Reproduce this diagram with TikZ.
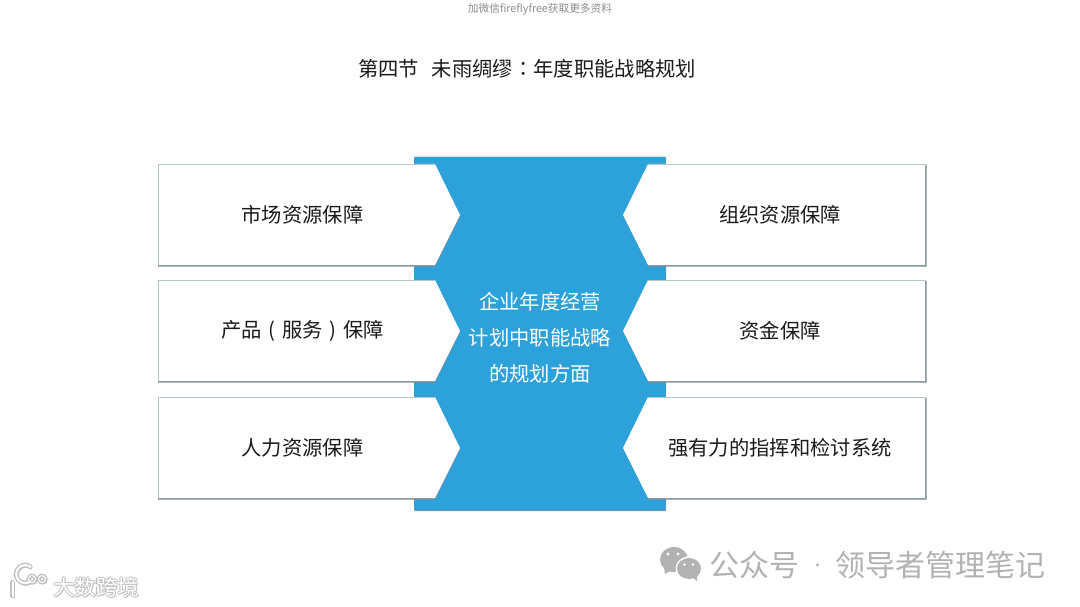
\documentclass[tikz,border=0pt]{standalone}
\usepackage{fontspec}
\setmainfont{Noto Sans CJK SC}
\newfontfamily\tcfont{Noto Sans CJK TC}
\definecolor{hubblue}{HTML}{2CA1DA}
\definecolor{boxshadow}{HTML}{7F8C92}
\definecolor{boxedge}{HTML}{B3C6CC}
\definecolor{markgrey}{HTML}{B2B2B2}
\definecolor{inktext}{HTML}{1A1A1A}
\newcommand{\cpar}[1]{\makebox[20.3pt][c]{#1}}
\tikzset{
  x=1pt,y=-1pt,
  cardfill/.style={fill=white},
  cardline/.style={draw=boxedge,line width=0.8pt},
  cardshadow/.style={fill=boxshadow,line join=round},
  cardtext/.style={text=inktext,font=\fontsize{20.3}{24}\selectfont,inner sep=0pt},
  hubtext/.style={text=white,font=\fontsize{20.3}{36}\selectfont,align=center,inner sep=0pt},
  wmtext/.style={text=markgrey,font=\fontsize{30}{32}\selectfont,inner sep=0pt},
}
\newcommand{\leftcard}[3]{%
  \fill[cardshadow] (158,#1+1.5) -- (435,#1+1.5) -- (460,#1+52.5) -- (435,#1+102.5) -- (158,#1+102.5) -- cycle;
  \path[cardfill] (158,#1) -- (435,#1) -- (460,#1+51) -- (435,#1+101) -- (158,#1+101) -- cycle;
  \draw[cardline] (435,#1) -- (158,#1) -- (158,#1+101);
  \node[cardtext] (#3) at (302.5,#1+50.5) {#2};}
\newcommand{\rightcard}[3]{%
  \fill[cardshadow] (926.5,#1+0.5) -- (649,#1+1.5) -- (624,#1+53) -- (649,#1+102.5) -- (926.5,#1+102.5) -- cycle;
  \path[cardfill] (925,#1) -- (648,#1) -- (623,#1+51) -- (648,#1+101) -- (925,#1+101) -- cycle;
  \draw[cardline] (648,#1) -- (925,#1);
  \node[cardtext] (#3) at (780,#1+50.5) {#2};}
\begin{document}
\begin{tikzpicture}
\useasboundingbox (0,0) rectangle (1080,607);
\fill[white] (0,0) rectangle (1080,607);
\node[text=black!45,font=\fontsize{10.7}{12}\selectfont,inner sep=0pt] (hdr) at (540,9) {加微信fireflyfree获取更多资料};
\node[text=inktext,font=\fontsize{20.3}{24}\selectfont,inner sep=0pt] (ttl) at (527,69) {第四节\hspace{13pt}未雨绸缪{\tcfont ：}年度职能战略规划};
% hub
\fill[boxshadow,rounded corners=1pt] (414,157) rectangle (666,511);
\fill[hubblue,rounded corners=1pt] (414,157) rectangle (665.5,510);
% cards
\leftcard{164}{市场资源保障}{c1}
\leftcard{280}{产品\cpar{(}服务\cpar{)}保障}{c2}
\leftcard{397}{人力资源保障}{c3}
\rightcard{164}{组织资源保障}{c4}
\rightcard{280}{资金保障}{c5}
\rightcard{397}{强有力的指挥和检讨系统}{c6}
\node[hubtext] (hub) at (540,338) {企业年度经营\\计划中职能战略\\的规划方面};
% wechat mark
\fill[markgrey] (674,559.5) ellipse (14 and 12.5);
\fill[markgrey] (664,567) -- (665,574) -- (672,570) -- cycle;
\fill[white] (689,568.5) ellipse (13.5 and 12);
\fill[markgrey] (689,568.5) ellipse (12 and 10.5);
\fill[markgrey] (692,577) -- (697,581) -- (697,574) -- cycle;
\fill[white] (668,554) circle (1.6) (678,554) circle (1.6);
\fill[white] (684.5,564.5) circle (1.4) (693,564.5) circle (1.4);
\node[wmtext] (wm1) at (754.5,565) {公众号};
\node[wmtext] (wm2) at (940,565) {领导者管理笔记};
\fill[markgrey] (817.5,565) circle (1.6);
% bottom-left mark
\foreach \dx/\dy in {-1/0,1/0,0/-1,0/1,1/1}{
  \node[text=black!24,font=\fontsize{21.5}{24}\selectfont,inner sep=0pt] at (96+\dx,587+\dy) {大数跨境};
  \draw[black!24,line width=3pt] (12.5+\dx,581+\dy) -- (12.5+\dx,597+\dy);
  \draw[black!24,line width=3pt] (31+\dx,581+\dy) arc[start angle=50,end angle=310,radius=9];
  \draw[black!24,line width=2pt] (32+\dx,579+\dy) circle (3.5);
  \draw[black!24,line width=2pt] (42+\dx,579+\dy) circle (3.5);
}
\node[text=white,font=\fontsize{21.5}{24}\selectfont,inner sep=0pt] (bl) at (96,587) {大数跨境};
\draw[white,line width=2pt] (12.5,581) -- (12.5,597);
\draw[white,line width=2pt] (31,581) arc[start angle=50,end angle=310,radius=9];
\draw[white,line width=1pt] (32,579) circle (3.5);
\draw[white,line width=1pt] (42,579) circle (3.5);
\end{tikzpicture}
\end{document}
